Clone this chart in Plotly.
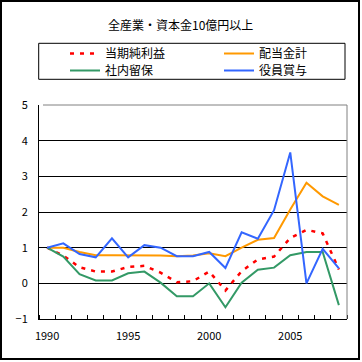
import plotly.graph_objects as go

years = list(range(1990, 2009))
net_income = [1.0, 0.78, 0.45, 0.33, 0.33, 0.46, 0.49, 0.30, 0.03, 0.06, 0.33, -0.20, 0.34, 0.67, 0.75, 1.27, 1.50, 1.40, 0.39]
dividends = [1.0, 1.0, 0.88, 0.79, 0.79, 0.79, 0.79, 0.78, 0.76, 0.78, 0.84, 0.76, 1.0, 1.22, 1.27, 2.07, 2.82, 2.44, 2.20]
retained = [1.0, 0.75, 0.26, 0.08, 0.08, 0.28, 0.33, 0.02, -0.36, -0.36, 0.0, -0.67, 0.02, 0.38, 0.44, 0.79, 0.88, 0.88, -0.61]
bonus = [1.0, 1.12, 0.82, 0.73, 1.26, 0.73, 1.07, 1.0, 0.76, 0.76, 0.88, 0.43, 1.43, 1.25, 2.05, 3.67, 0.0, 0.97, 0.42]

x_tickvals = [1990, 1995, 2000, 2005]
y_tickvals = [-1, 0, 1, 2, 3, 4, 5]

FONT = "Noto Sans CJK JP"

fig = go.Figure()
fig.add_trace(go.Scatter(x=years, y=net_income, name="当期純利益", mode="lines",
                         line=dict(color="#FF0000", width=2.5, dash="4px,6px"), legend="legend"))
fig.add_trace(go.Scatter(x=years, y=dividends, name="配当金計", mode="lines",
                         line=dict(color="#FF9900", width=2), legend="legend2"))
fig.add_trace(go.Scatter(x=years, y=retained, name="社内留保", mode="lines",
                         line=dict(color="#339966", width=2), legend="legend3"))
fig.add_trace(go.Scatter(x=years, y=bonus, name="役員賞与", mode="lines",
                         line=dict(color="#3366FF", width=2), legend="legend4"))

L, R, T, B = 39, 15, 105, 43
W = 362 - L - R
H = 362 - T - B

def px(xp):
    return (xp - L) / W

def py(yp):
    return (362 - B - yp) / H

legend_common = dict(orientation="v", bgcolor="rgba(0,0,0,0)", borderwidth=0,
                     font=dict(family=FONT, size=12, color="black"),
                     xanchor="left", yanchor="middle", itemwidth=30)

fig.update_layout(
    width=362, height=362,
    margin=dict(l=L, r=R, t=T, b=B, autoexpand=False),
    paper_bgcolor="white", plot_bgcolor="white",
    font=dict(family=FONT, size=11, color="black"),
    legend=dict(x=px(65), y=py(53.5), **legend_common),
    legend2=dict(x=px(219), y=py(53.5), **legend_common),
    legend3=dict(x=px(65), y=py(70.5), **legend_common),
    legend4=dict(x=px(219), y=py(70.5), **legend_common),
    xaxis=dict(range=[1989.5, 2008.5], tickvals=x_tickvals, ticks="", showgrid=False,
               showline=True, linecolor="black", linewidth=1, zeroline=False,
               tickfont=dict(family=FONT, size=11, color="black"),
               ticklabelstandoff=7,
               minor=dict(tick0=1989.5, dtick=1, ticks="inside", ticklen=4,
                          tickcolor="black", tickwidth=1, showgrid=False)),
    yaxis=dict(range=[-1, 5], tickvals=y_tickvals, ticks="inside", ticklen=4,
               tickcolor="black", showgrid=True, gridcolor="black", gridwidth=1,
               showline=True, linecolor="black", linewidth=1, zeroline=False,
               tickfont=dict(family=FONT, size=11, color="black"),
               ticklabelstandoff=8),
    annotations=[
        dict(text="全産業・資本金10億円以上", xref="paper", yref="paper",
             x=px(180), y=py(25), xanchor="center", yanchor="middle",
             showarrow=False, font=dict(family=FONT, size=12, color="black")),
    ],
    shapes=[
        dict(type="line", xref="paper", yref="paper", x0=px(43), x1=1, y0=1, y1=1,
             line=dict(color="#808080", width=1), layer="above"),
        dict(type="line", xref="paper", yref="paper", x0=1, x1=1, y0=0, y1=1,
             line=dict(color="#808080", width=1), layer="above"),
        dict(type="rect", xref="paper", yref="paper", x0=px(38.7), x1=px(345),
             y0=py(79.3), y1=py(43.3), line=dict(color="black", width=1)),
        dict(type="rect", xref="paper", yref="paper", x0=px(1), x1=px(359),
             y0=py(359), y1=py(1), line=dict(color="black", width=2)),
    ],
    showlegend=True,
)

fig.write_html("out.html", config={"displayModeBar": False},
               post_script="document.body.style.margin='0';")
